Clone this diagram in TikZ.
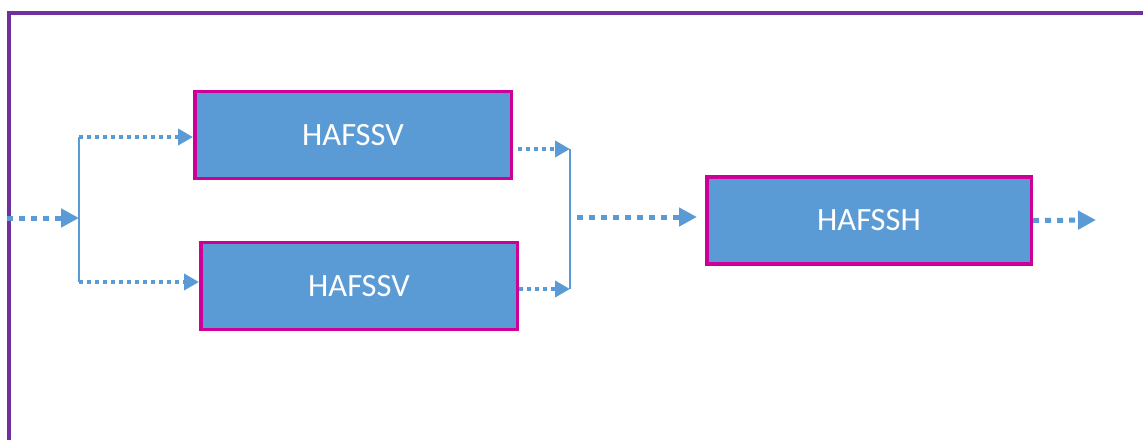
\documentclass[tikz,border=0pt]{standalone}
\usepackage{fontspec}
\setmainfont{Carlito}
\usetikzlibrary{arrows.meta}
\definecolor{flowblue}{HTML}{5B9BD5}
\definecolor{boxpink}{HTML}{CC0099}
\definecolor{framepurple}{HTML}{7030A0}
\tikzset{
  hafbox/.style={draw=boxpink, line width=3.5pt, fill=flowblue, text=white,
    minimum height=87pt, font=\fontsize{32.5}{38}\selectfont},
  bigflow/.style={flowblue, line width=5pt, dash pattern=on 6pt off 6pt,
    -{Triangle[length=18pt,width=18pt]}},
  smallflow/.style={flowblue, line width=4pt, dash pattern=on 4pt off 4pt,
    -{Triangle[length=15pt,width=16pt]}},
  joinline/.style={flowblue, line width=1.5pt}
}
\begin{document}
\begin{tikzpicture}[x=1pt,y=-1pt]
  \useasboundingbox (0,0) rectangle (1143,440);
  %frame
  \draw[framepurple, line width=4pt] (9,440) -- (9,13) -- (1143,13);
  %boxes
  \node[hafbox, minimum width=316.5pt] (v1) at (353,135) {HAFSSV};
  \node[hafbox, minimum width=316.5pt] (v2) at (359,286) {HAFSSV};
  \node[hafbox, minimum width=324.5pt] (h1) at (869,220.5) {HAFSSH};
  %split points
  \coordinate (in) at (7,218);
  \coordinate (fork) at (79,218);
  \coordinate (forkup) at (79,137);
  \coordinate (forkdown) at (79,282);
  \coordinate (joinup) at (570,149);
  \coordinate (joindown) at (570,289);
  \coordinate (mid) at (577,217);
  \coordinate (out) at (1096,220);
  %left side
  \draw[bigflow] (in) -- (fork);
  \draw[joinline] (forkup) -- (forkdown);
  \draw[smallflow] (forkup) -- (forkup -| v1.west);
  \draw[smallflow] (forkdown) -- (forkdown -| v2.west);
  %right side
  \draw[smallflow, shorten <=5pt] (v1.east |- joinup) -- (joinup);
  \draw[smallflow] (v2.east |- joindown) -- (joindown);
  \draw[joinline] (joinup) -- (joindown);
  \draw[bigflow, shorten >=8pt] (mid) -- (mid -| h1.west);
  \draw[bigflow] (h1.east) -- (out);
\end{tikzpicture}
\end{document}
